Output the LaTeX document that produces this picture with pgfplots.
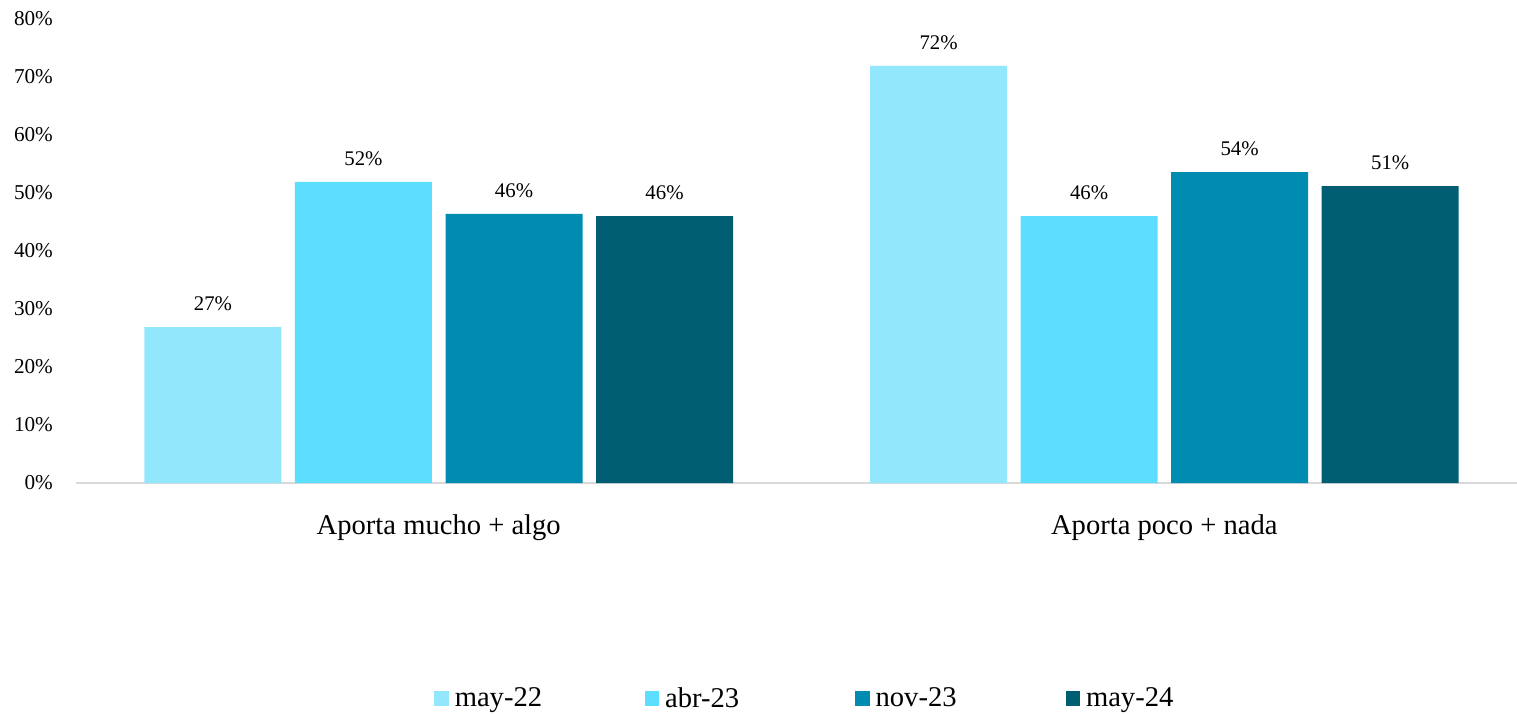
\documentclass[border=0pt]{standalone}
\usepackage{pgfplots}
\pgfplotsset{compat=1.18}
\usepackage{fontspec}
\setmainfont{Liberation Serif}
\definecolor{c1}{HTML}{93E7FC}
\definecolor{c2}{HTML}{5BDEFF}
\definecolor{c3}{HTML}{008BB0}
\definecolor{c4}{HTML}{005E72}
\definecolor{axgray}{HTML}{D9D9D9}
\pgfplotsset{
  sqlegend/.style={legend image code/.code={\fill[##1] (-2pt,-3.7pt) rectangle (5.2pt,3.7pt);}}
}
\begin{document}
\begin{tikzpicture}
\begin{axis}[
  scale only axis,
  width=720.5pt, height=232pt,
  xmin=-0.5, xmax=1.486,
  ymin=0, ymax=80,
  ytick={0,10,...,80},
  xtick={0,1},
  xticklabels={Aporta mucho + algo, Aporta poco + nada},
  axis x line=bottom, axis y line=left,
  x axis line style={-, draw=axgray, line width=1pt},
  y axis line style={draw=none},
  major tick length=0pt,
  /pgf/number format/assume math mode=true,
  yticklabel={\pgfmathprintnumber{\tick}\%},
  yticklabel style={font=\fontsize{10.6}{12}\selectfont, xshift=-8pt},
  xticklabel style={font=\fontsize{14.3}{16}\selectfont, yshift=-12.5pt},
  ybar, bar width=68.5pt,
  nodes near coords={\pgfmathprintnumber[fixed,precision=0]{\pgfplotspointmeta}\%},
  nodes near coords style={font=\fontsize{10.4}{12}\selectfont, anchor=south, yshift=4.5pt, text=black},
  legend columns=4,
  legend style={draw=none, at={(rel axis cs:0.2443,-0.465)}, anchor=west, font=\fontsize{14.3}{16}\selectfont,
    /tikz/every even column/.append style={column sep=0pt}},
  legend cell align=left,
  sqlegend,
  every axis legend/.append style={nodes={text width=92pt, inner xsep=3pt}},
  clip=false,
]
\addplot[fill=c1, draw=none, bar shift=-0.311*726*0.5pt] coordinates {(0,26.9) (1,71.9)};
\addplot[fill=c2, draw=none, bar shift=-0.1037*726*0.5pt] coordinates {(0,51.9) (1,46.0)};
\addplot[fill=c3, draw=none, bar shift=0.1037*726*0.5pt] coordinates {(0,46.4) (1,53.6)};
\addplot[fill=c4, draw=none, bar shift=0.311*726*0.5pt] coordinates {(0,46.0) (1,51.2)};
\legend{may-22, abr-23, nov-23, may-24}
\coordinate (bl) at (rel axis cs:-0.0527,-0.4957);
\coordinate (tr) at (rel axis cs:1,1.041);
\end{axis}
\pgfresetboundingbox
\path[use as bounding box] (bl) rectangle (tr);
\end{tikzpicture}
\end{document}
